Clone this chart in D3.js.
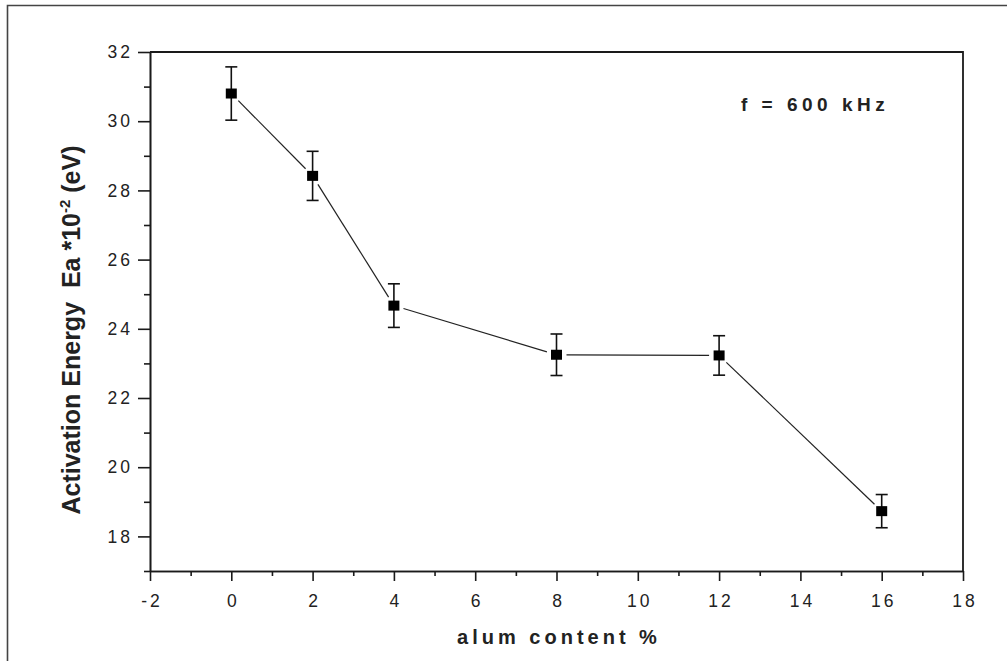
<!DOCTYPE html>
<html>
<head>
<meta charset="utf-8">
<style>
  body { margin: 0; background: #fff; }
  svg { display: block; font-family: "Liberation Sans", Arial, sans-serif; }
  .axis path, .axis line { stroke: #1a1a1a; stroke-width: 1.6px; }
  .axis text { font-size: 17.5px; fill: #222; letter-spacing: 3px; }
</style>
</head>
<body>
<script src="https://d3js.org/d3.v7.min.js"></script>
<script>
// alum content (%) and activation energy Ea*10^-2 (eV), with error bar half-widths
var alum = [0, 2, 4, 8, 12, 16];
var energy = [30.8, 28.42, 24.67, 23.25, 23.23, 18.73];
var errors = [0.77, 0.71, 0.63, 0.6, 0.57, 0.48];

var xMajor = [-2, 0, 2, 4, 6, 8, 10, 12, 14, 16, 18];
var xMinor = [-1, 1, 3, 5, 7, 9, 11, 13, 15, 17];
var yMajor = [18, 20, 22, 24, 26, 28, 30, 32];
var yMinor = [17, 19, 21, 23, 25, 27, 29, 31];

var W = 1007, H = 661;
var mLeft = 150, mRight = 963, mTop = 52, mBottom = 571;

var svg = d3.select("body").append("svg")
    .attr("width", W)
    .attr("height", H);

// outer frame
svg.append("path")
    .attr("d", "M7.5," + H + " V5.5 H" + W)
    .attr("fill", "none")
    .attr("stroke", "#444")
    .attr("stroke-width", 1.6);

var x = d3.scaleLinear().domain([-2, 18]).range([mLeft, mRight]);
var y = d3.scaleLinear().domain([17, 32]).range([mBottom, mTop]);
var fmt = function(d) { return String(d); };

// minor ticks
svg.append("g")
    .attr("class", "axis")
    .attr("transform", "translate(" + mLeft + ",0)")
    .call(d3.axisLeft(y).tickValues(yMinor).tickSize(6).tickSizeOuter(0).tickFormat(""));
svg.append("g")
    .attr("class", "axis")
    .attr("transform", "translate(0," + mBottom + ")")
    .call(d3.axisBottom(x).tickValues(xMinor).tickSize(5).tickSizeOuter(0).tickFormat(""));

// major ticks with labels
var yAxis = svg.append("g")
    .attr("class", "axis")
    .attr("transform", "translate(" + mLeft + ",0)")
    .call(d3.axisLeft(y).tickValues(yMajor).tickSize(12).tickSizeOuter(0).tickPadding(8).tickFormat(fmt));
yAxis.selectAll("text").attr("dx", 3);

var xAxis = svg.append("g")
    .attr("class", "axis")
    .attr("transform", "translate(0," + mBottom + ")")
    .call(d3.axisBottom(x).tickValues(xMajor).tickSize(10).tickSizeOuter(0).tickPadding(14).tickFormat(fmt));
xAxis.selectAll("text").attr("dx", 1.5);
svg.selectAll(".domain").attr("stroke-width", 1.8);

// top and right frame of the plot
svg.append("path")
    .attr("d", "M" + mLeft + "," + mTop + " H" + mRight + " V" + mBottom)
    .attr("fill", "none")
    .attr("stroke", "#1a1a1a")
    .attr("stroke-width", 1.8);

// connecting line, drawn with small gaps near the markers
var gap = 10;
for (var i = 0; i < alum.length - 1; i++) {
    var x1 = x(alum[i]), y1 = y(energy[i]);
    var x2 = x(alum[i + 1]), y2 = y(energy[i + 1]);
    var len = Math.hypot(x2 - x1, y2 - y1);
    var ux = (x2 - x1) / len, uy = (y2 - y1) / len;
    svg.append("line")
        .attr("x1", x1 + ux * gap).attr("y1", y1 + uy * gap)
        .attr("x2", x2 - ux * gap).attr("y2", y2 - uy * gap)
        .attr("stroke", "#222")
        .attr("stroke-width", 1.2);
}

var pts = alum.map(function(a, i) { return {a: a, e: energy[i], err: errors[i]}; });

// error bars
var eb = svg.append("g").attr("stroke", "#111").attr("stroke-width", 1.6);
eb.selectAll(".v").data(pts).enter().append("line")
    .attr("x1", function(d) { return x(d.a); })
    .attr("x2", function(d) { return x(d.a); })
    .attr("y1", function(d) { return y(d.e + d.err); })
    .attr("y2", function(d) { return y(d.e - d.err); });
eb.selectAll(".t").data(pts).enter().append("line")
    .attr("x1", function(d) { return x(d.a) - 6; })
    .attr("x2", function(d) { return x(d.a) + 6; })
    .attr("y1", function(d) { return y(d.e + d.err); })
    .attr("y2", function(d) { return y(d.e + d.err); });
eb.selectAll(".b").data(pts).enter().append("line")
    .attr("x1", function(d) { return x(d.a) - 6; })
    .attr("x2", function(d) { return x(d.a) + 6; })
    .attr("y1", function(d) { return y(d.e - d.err); })
    .attr("y2", function(d) { return y(d.e - d.err); });

// square markers
svg.selectAll(".marker").data(pts).enter().append("rect")
    .attr("x", function(d) { return x(d.a) - 5.5; })
    .attr("y", function(d) { return y(d.e) - 5; })
    .attr("width", 11)
    .attr("height", 10)
    .attr("fill", "#000");

// annotation
svg.append("text")
    .attr("x", 741)
    .attr("y", 111)
    .attr("font-size", 19)
    .attr("font-weight", "bold")
    .attr("letter-spacing", 4.5)
    .attr("fill", "#222")
    .text("f = 600 kHz");

// x axis title
svg.append("text")
    .attr("x", 559)
    .attr("y", 644)
    .attr("text-anchor", "middle")
    .attr("font-size", 20)
    .attr("font-weight", "bold")
    .attr("letter-spacing", 4)
    .attr("fill", "#222")
    .text("alum content %");

// y axis title
var yt = svg.append("text")
    .attr("transform", "translate(80,330) rotate(-90)")
    .attr("text-anchor", "middle")
    .attr("font-size", 25)
    .attr("font-weight", "bold")
    .attr("fill", "#222");
yt.append("tspan").text("Activation Energy\u00a0 Ea *10");
yt.append("tspan").attr("dy", -10).attr("font-size", 15).text("-2");
yt.append("tspan").attr("dy", 10).text(" (eV)");
</script>
</body>
</html>
